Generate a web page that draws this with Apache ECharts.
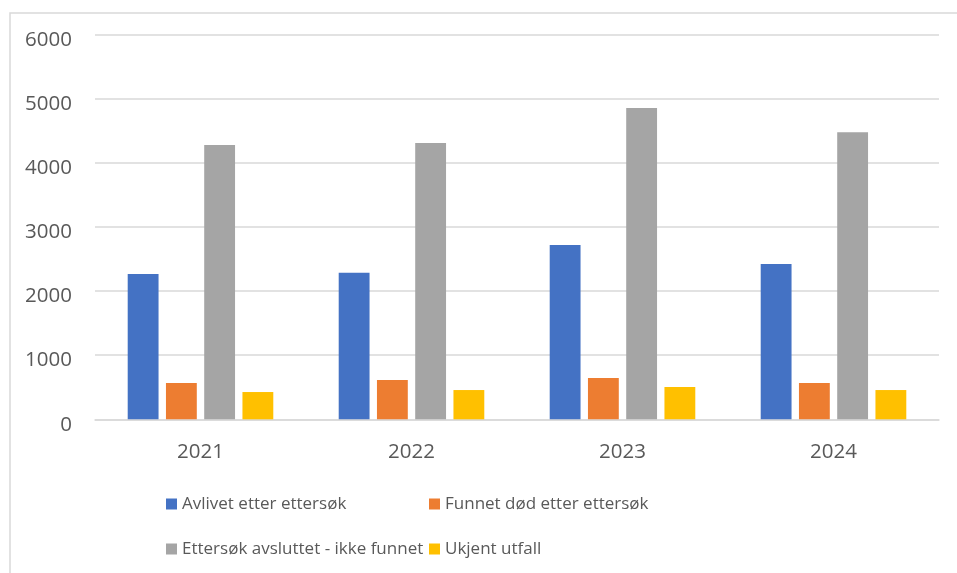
<!DOCTYPE html>
<html>
<head>
<meta charset="utf-8">
<script src="https://cdn.jsdelivr.net/npm/echarts@6/dist/echarts.min.js"></script>
<style>
html,body{margin:0;padding:0;background:#fff;}
#c{width:957px;height:573px;}
</style>
</head>
<body>
<div id="c"></div>
<script>
const years = ['2021', '2022', '2023', '2024'];
const seriesNames = ['Avlivet etter ettersøk', 'Funnet død etter ettersøk', 'Ettersøk avsluttet - ikke funnet', 'Ukjent utfall'];
const avlivet = [2265, 2285, 2715, 2420];
const funnetDod = [565, 612, 643, 565];
const ikkeFunnet = [4275, 4305, 4850, 4475];
const ukjent = [425, 456, 503, 456];
const yTicks = [0, 1000, 2000, 3000, 4000, 5000, 6000];
const colors = ['#4472C4', '#ED7D31', '#A5A5A5', '#FFC000'];

const values = [avlivet, funnetDod, ikkeFunnet, ukjent];
const FONT = 'Open Sans';
const TXT = '#595959';

const chart = echarts.init(document.getElementById('c'), null, {renderer: 'canvas'});

const legendPos = [
  {left: 166, top: 494},
  {left: 429, top: 494},
  {left: 166, top: 539},
  {left: 429, top: 539}
];

chart.setOption({
  animation: false,
  backgroundColor: '#fff',
  color: colors,
  graphic: [{
    type: 'rect',
    shape: {x: 10, y: 13, width: 1000, height: 700},
    style: {fill: 'none', stroke: '#d9d9d9', lineWidth: 1.5},
    silent: true,
    z: -10
  }],
  grid: {left: 95, right: 18, top: 34.3, height: 385, containLabel: false},
  legend: seriesNames.map((n, i) => ({
    data: [n],
    left: legendPos[i].left,
    top: legendPos[i].top,
    padding: 0,
    itemWidth: 11,
    itemHeight: 11,
    icon: 'rect',
    selectedMode: false,
    textStyle: {fontFamily: FONT, fontSize: 17, color: TXT, lineHeight: 20}
  })),
  xAxis: {
    type: 'category',
    data: years,
    axisLine: {show: true, lineStyle: {color: '#d9d9d9', width: 1.5}},
    axisTick: {show: false},
    axisLabel: {fontFamily: FONT, fontSize: 20.5, color: TXT, margin: 22}
  },
  yAxis: {
    type: 'value',
    min: yTicks[0],
    max: yTicks[yTicks.length - 1],
    interval: yTicks[1] - yTicks[0],
    axisLine: {show: false},
    axisTick: {show: false},
    splitLine: {lineStyle: {color: '#d9d9d9', width: 1.5}},
    axisLabel: {
      fontFamily: FONT, fontSize: 20.5, color: TXT, margin: 23,
      verticalAlign: 'top', lineHeight: 11,
      formatter: v => String(v)
    }
  },
  series: seriesNames.map((n, i) => ({
    name: n,
    type: 'bar',
    data: values[i],
    barGap: '24%',
    barCategoryGap: '31%',
    itemStyle: {color: colors[i]}
  }))
});
</script>
</body>
</html>
